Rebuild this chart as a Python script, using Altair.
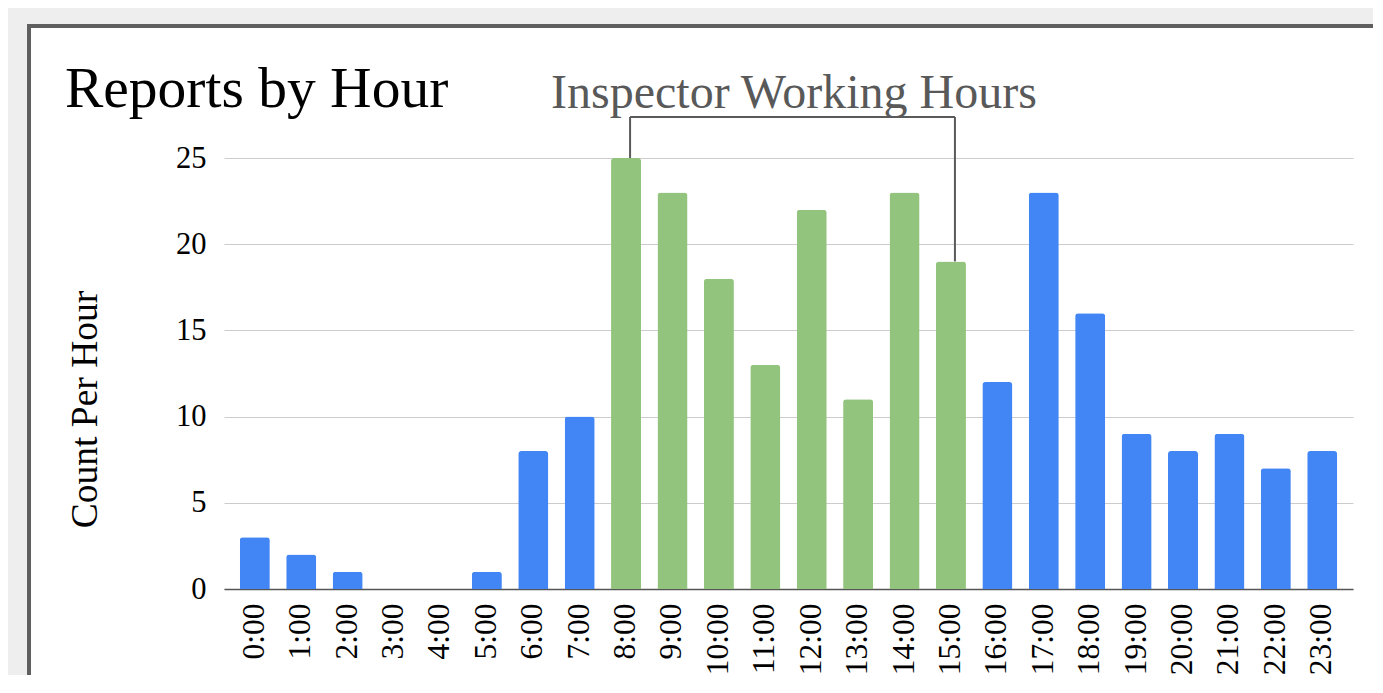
import altair as alt
import pandas as pd

# ---- data ----
hours = [f"{h}:00" for h in range(24)]
counts = [3, 2, 1, 0, 0, 1, 8, 10, 25, 23, 18, 13, 22, 11, 23, 19, 12, 23, 16, 9, 8, 9, 7, 8]
shift = ["Off hours"] * 8 + ["Inspector hours"] * 8 + ["Off hours"] * 8
y_ticks = [0, 5, 10, 15, 20, 25]

bracket_start = "8:00"
bracket_end = "15:00"
bracket_level = 27.38
annotation_label = "Inspector Working Hours"
chart_title = "Reports by Hour"

BLUE = "#4285f4"
GREEN = "#93c47d"
FONT = "Liberation Serif"

bars_df = pd.DataFrame({"hour": hours, "count": counts, "shift": shift})
bracket_top_df = pd.DataFrame({"start": [bracket_start], "end": [bracket_end], "level": [bracket_level]})
bracket_legs_df = pd.DataFrame({
    "hour": [bracket_start, bracket_end],
    "level": [bracket_level, bracket_level],
    "count": [counts[hours.index(bracket_start)], counts[hours.index(bracket_end)]],
})
one = pd.DataFrame({"k": [0]})

xscale = alt.Scale(domain=hours, paddingInner=0.353, paddingOuter=0.34)
yscale = alt.Scale(domain=[0, 25], nice=False)

# ---- slide frame decoration (outside the plot area) ----
gray_left = alt.Chart(one).mark_rect(color="#eeeeee").encode(
    x=alt.value(-216), x2=alt.value(-197), y=alt.value(-150), y2=alt.value(600))
gray_top = alt.Chart(one).mark_rect(color="#eeeeee").encode(
    x=alt.value(-216), x2=alt.value(1300), y=alt.value(-150), y2=alt.value(-134))
border_left = alt.Chart(one).mark_rect(color="#5f5f5f").encode(
    x=alt.value(-197), x2=alt.value(-193), y=alt.value(-134), y2=alt.value(600))
border_top = alt.Chart(one).mark_rect(color="#5f5f5f").encode(
    x=alt.value(-197), x2=alt.value(1300), y=alt.value(-134), y2=alt.value(-130))

# ---- bars ----
bars = alt.Chart(bars_df).mark_bar(cornerRadiusTopLeft=3, cornerRadiusTopRight=3).encode(
    x=alt.X("hour:N", scale=xscale, title=None,
            axis=alt.Axis(labelAngle=-90, labelFont=FONT, labelFontSize=31.5, labelColor="#000000",
                          labelPadding=14, ticks=False, tickSize=0, domain=True,
                          domainColor="#555555", domainWidth=1.6, grid=False, labelOverlap=False)),
    y=alt.Y("count:Q", scale=yscale, title="Count Per Hour",
            axis=alt.Axis(values=y_ticks, labelFont=FONT, labelFontSize=30.5, labelColor="#000000",
                          labelPadding=18, ticks=False, tickSize=0, domain=False,
                          grid=True, gridColor="#cccccc", gridWidth=1,
                          titleFont=FONT, titleFontSize=37.5, titleFontWeight="normal",
                          titleColor="#000000", titleX=-120, titleY=251, titleAngle=-90)),
    color=alt.Color("shift:N", scale=alt.Scale(domain=["Off hours", "Inspector hours"],
                                               range=[BLUE, GREEN]), legend=None),
)

# ---- bracket annotation ----
bracket_top = alt.Chart(bracket_top_df).mark_rule(
    color="#5a5a5a", strokeWidth=2, xOffset=4, x2Offset=4).encode(
    x=alt.X("start:N", scale=xscale), x2="end:N",
    y=alt.Y("level:Q", scale=yscale))
bracket_legs = alt.Chart(bracket_legs_df).mark_rule(
    color="#5a5a5a", strokeWidth=2, xOffset=4).encode(
    x=alt.X("hour:N", scale=xscale),
    y=alt.Y("level:Q", scale=yscale), y2="count:Q")

annotation = alt.Chart(one).mark_text(
    text=annotation_label, font=FONT, fontSize=48, color="#595959",
    align="center", baseline="alphabetic").encode(x=alt.value(570), y=alt.value(-50))

title = alt.Chart(one).mark_text(
    text=chart_title, font=FONT, fontSize=57.5, color="#000000",
    align="left", baseline="alphabetic").encode(x=alt.value(-159), y=alt.value(-51))

chart = alt.layer(
    gray_left, gray_top, border_left, border_top,
    bars, bracket_top, bracket_legs, annotation, title,
).properties(
    width=1129, height=431,
    autosize=alt.AutoSizeParams(type="none"),
    padding={"left": 216, "top": 150, "right": 20, "bottom": 86},
    background="white",
).configure_view(stroke=None)

chart.save("out.html", embed_options={"renderer": "svg", "actions": False})
